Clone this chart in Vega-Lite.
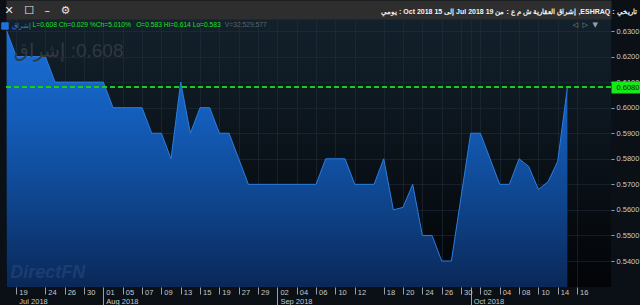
{
  "$schema": "https://vega.github.io/schema/vega-lite/v6.json",
  "width": 605,
  "height": 268,
  "autosize": {"type": "none"},
  "padding": {"left": 6, "top": 19, "right": 29, "bottom": 18},
  "background": "#0a1016",
  "config": {"font": "Liberation Sans, sans-serif", "view": {"stroke": null}},
  "view": {
    "stroke": null,
    "fill": {"gradient": "linear", "x1": 0, "y1": 0, "x2": 0, "y2": 1,
      "stops": [{"offset": 0, "color": "#13212c"}, {"offset": 1, "color": "#020407"}]}
  },
  "data": {"values": [
    {"date": "2018-07-18", "price": 0.63, "name": "إشراق"},
    {"date": "2018-07-19", "price": 0.62, "name": "إشراق"},
    {"date": "2018-07-22", "price": 0.62, "name": "إشراق"},
    {"date": "2018-07-23", "price": 0.62, "name": "إشراق"},
    {"date": "2018-07-24", "price": 0.62, "name": "إشراق"},
    {"date": "2018-07-25", "price": 0.61, "name": "إشراق"},
    {"date": "2018-07-26", "price": 0.61, "name": "إشراق"},
    {"date": "2018-07-29", "price": 0.61, "name": "إشراق"},
    {"date": "2018-07-30", "price": 0.61, "name": "إشراق"},
    {"date": "2018-07-31", "price": 0.61, "name": "إشراق"},
    {"date": "2018-08-01", "price": 0.61, "name": "إشراق"},
    {"date": "2018-08-02", "price": 0.60, "name": "إشراق"},
    {"date": "2018-08-05", "price": 0.60, "name": "إشراق"},
    {"date": "2018-08-06", "price": 0.60, "name": "إشراق"},
    {"date": "2018-08-07", "price": 0.60, "name": "إشراق"},
    {"date": "2018-08-08", "price": 0.59, "name": "إشراق"},
    {"date": "2018-08-09", "price": 0.59, "name": "إشراق"},
    {"date": "2018-08-12", "price": 0.58, "name": "إشراق"},
    {"date": "2018-08-13", "price": 0.61, "name": "إشراق"},
    {"date": "2018-08-14", "price": 0.59, "name": "إشراق"},
    {"date": "2018-08-15", "price": 0.60, "name": "إشراق"},
    {"date": "2018-08-16", "price": 0.60, "name": "إشراق"},
    {"date": "2018-08-19", "price": 0.59, "name": "إشراق"},
    {"date": "2018-08-20", "price": 0.59, "name": "إشراق"},
    {"date": "2018-08-27", "price": 0.58, "name": "إشراق"},
    {"date": "2018-08-28", "price": 0.57, "name": "إشراق"},
    {"date": "2018-08-29", "price": 0.57, "name": "إشراق"},
    {"date": "2018-08-30", "price": 0.57, "name": "إشراق"},
    {"date": "2018-09-02", "price": 0.57, "name": "إشراق"},
    {"date": "2018-09-03", "price": 0.57, "name": "إشراق"},
    {"date": "2018-09-04", "price": 0.57, "name": "إشراق"},
    {"date": "2018-09-05", "price": 0.57, "name": "إشراق"},
    {"date": "2018-09-06", "price": 0.57, "name": "إشراق"},
    {"date": "2018-09-09", "price": 0.58, "name": "إشراق"},
    {"date": "2018-09-10", "price": 0.58, "name": "إشراق"},
    {"date": "2018-09-11", "price": 0.58, "name": "إشراق"},
    {"date": "2018-09-12", "price": 0.57, "name": "إشراق"},
    {"date": "2018-09-13", "price": 0.57, "name": "إشراق"},
    {"date": "2018-09-16", "price": 0.57, "name": "إشراق"},
    {"date": "2018-09-18", "price": 0.58, "name": "إشراق"},
    {"date": "2018-09-19", "price": 0.56, "name": "إشراق"},
    {"date": "2018-09-20", "price": 0.561, "name": "إشراق"},
    {"date": "2018-09-23", "price": 0.57, "name": "إشراق"},
    {"date": "2018-09-24", "price": 0.55, "name": "إشراق"},
    {"date": "2018-09-25", "price": 0.55, "name": "إشراق"},
    {"date": "2018-09-26", "price": 0.54, "name": "إشراق"},
    {"date": "2018-09-27", "price": 0.54, "name": "إشراق"},
    {"date": "2018-09-30", "price": 0.565, "name": "إشراق"},
    {"date": "2018-10-01", "price": 0.59, "name": "إشراق"},
    {"date": "2018-10-02", "price": 0.59, "name": "إشراق"},
    {"date": "2018-10-03", "price": 0.58, "name": "إشراق"},
    {"date": "2018-10-04", "price": 0.57, "name": "إشراق"},
    {"date": "2018-10-07", "price": 0.57, "name": "إشراق"},
    {"date": "2018-10-08", "price": 0.58, "name": "إشراق"},
    {"date": "2018-10-09", "price": 0.577, "name": "إشراق"},
    {"date": "2018-10-10", "price": 0.568, "name": "إشراق"},
    {"date": "2018-10-11", "price": 0.571, "name": "إشراق"},
    {"date": "2018-10-14", "price": 0.579, "name": "إشراق"},
    {"date": "2018-10-15", "price": 0.608, "name": "إشراق"}
  ]},
  "resolve": {"axis": {"x": "independent", "y": "independent"}},
  "layer": [
    {
      "mark": {"type": "area", "clip": true,
        "color": {"gradient": "linear", "x1": 0, "y1": 0, "x2": 0, "y2": 1,
          "stops": [{"offset": 0, "color": "#1a6fd8"}, {"offset": 0.35, "color": "#135cb8"}, {"offset": 0.7, "color": "#0e4288"}, {"offset": 1, "color": "#0a2858"}]}},
      "encoding": {
        "x": {"field": "date", "type": "ordinal",
          "scale": {"type": "point", "padding": 0.2922, "align": 0.124, "round": false,
            "domain": ["2018-07-18","2018-07-19","2018-07-22","2018-07-23","2018-07-24","2018-07-25","2018-07-26","2018-07-29","2018-07-30","2018-07-31","2018-08-01","2018-08-02","2018-08-05","2018-08-06","2018-08-07","2018-08-08","2018-08-09","2018-08-12","2018-08-13","2018-08-14","2018-08-15","2018-08-16","2018-08-19","2018-08-20","2018-08-27","2018-08-28","2018-08-29","2018-08-30","2018-09-02","2018-09-03","2018-09-04","2018-09-05","2018-09-06","2018-09-09","2018-09-10","2018-09-11","2018-09-12","2018-09-13","2018-09-16","2018-09-18","2018-09-19","2018-09-20","2018-09-23","2018-09-24","2018-09-25","2018-09-26","2018-09-27","2018-09-30","2018-10-01","2018-10-02","2018-10-03","2018-10-04","2018-10-07","2018-10-08","2018-10-09","2018-10-10","2018-10-11","2018-10-14","2018-10-15","2018-10-16","2018-10-17","2018-10-18","2018-10-21"]},
          "axis": {
            "orient": "bottom",
            "values": ["2018-07-19","2018-07-24","2018-07-26","2018-07-30","2018-08-01","2018-08-05","2018-08-07","2018-08-09","2018-08-13","2018-08-15","2018-08-19","2018-08-27","2018-08-29","2018-09-02","2018-09-04","2018-09-06","2018-09-10","2018-09-12","2018-09-18","2018-09-20","2018-09-24","2018-09-26","2018-09-30","2018-10-01","2018-10-02","2018-10-04","2018-10-08","2018-10-10","2018-10-14","2018-10-16"],
            "labelExpr": "datum.value == '2018-07-19' ? ['19', 'Jul 2018'] : datum.value == '2018-08-01' ? ['01', 'Aug 2018'] : datum.value == '2018-09-02' ? ['02', 'Sep 2018'] : datum.value == '2018-10-01' ? ['', 'Oct 2018'] : slice(datum.value, 8, 10)",
            "labelAlign": "left",
            "labelBaseline": "top",
            "labelOffset": 2.5,
            "labelAngle": 0,
            "tickSize": {"condition": {"test": "indexof(['2018-08-01','2018-09-02','2018-10-01'], datum.value) >= 0", "value": 18}, "value": 7},
            "labelPadding": {"condition": {"test": "indexof(['2018-08-01','2018-09-02','2018-10-01'], datum.value) >= 0", "value": -16.5}, "value": -5.5},
            "tickColor": "#9aa0a8",
            "labelColor": "#c4c8cc",
            "labelFontSize": 7.5,
            "labelLineHeight": 9,
            "labelOverlap": false,
            "labelFlush": false,
            "labelBound": false,
            "domain": false,
            "grid": true,
            "gridColor": "#22313f",
            "gridOpacity": 0.5,
            "title": null
          }
        },
        "y": {"field": "price", "type": "quantitative",
          "scale": {"domain": [0.52983, 0.6347], "zero": false, "nice": false},
          "axis": {
            "orient": "right",
            "values": [0.54, 0.55, 0.56, 0.57, 0.58, 0.59, 0.6, 0.61, 0.62, 0.63],
            "labelExpr": "format(datum.value, '.4f')",
            "domain": false,
            "tickSize": 3,
            "tickColor": "#9aa0a8",
            "labelPadding": 2,
            "labelColor": "#c8ccd0",
            "labelFontSize": 7.5,
            "labelBaseline": "middle",
            "labelOverlap": false,
            "labelFlush": false,
            "labelBound": false,
            "grid": true,
            "gridColor": "#22313f",
            "gridOpacity": 0.5,
            "title": "✕\u00a0\u00a0\u00a0☐\u00a0\u00a0\u00a0–\u00a0\u00a0\u00a0⚙",
            "titleAngle": 0,
            "titleX": -607,
            "titleY": -9,
            "titleAlign": "left",
            "titleBaseline": "middle",
            "titleColor": "#e8e8e8",
            "titleFont": "DejaVu Sans",
            "titleFontSize": 11,
            "titleFontWeight": "normal"
          }
        },
        "y2": {"datum": 0.52983}
      }
    },
    {
      "mark": {"type": "line", "strokeWidth": 1, "clip": true},
      "encoding": {
        "x": {"field": "date", "type": "ordinal",
          "axis": {"orient": "top", "offset": 9.5, "domain": true, "domainColor": "#2e2e2e", "domainWidth": 19,
            "ticks": false, "labels": false, "grid": false,
            "title": "يومي : Oct 2018 15 إلى Jul 2018 19 إشراق العقارية ش م ع : من ,ESHRAQ : تاريخي",
            "titleAnchor": "end", "titleAlign": "right", "titleBaseline": "middle",
            "titleX": 630, "titleY": 2, "titleColor": "#f2f2f2", "titleFontSize": 7, "titleFontWeight": "bold"}},
        "y": {"field": "price", "type": "quantitative", "axis": null},
        "color": {"field": "name", "type": "nominal",
          "scale": {"range": ["#2b7de0"]},
          "legend": {"orient": "none", "legendX": -5, "legendY": 3, "direction": "horizontal", "title": null,
            "symbolType": "square", "symbolSize": 42, "symbolFillColor": "#1f6fe0", "symbolStrokeColor": "#7fb0ff",
            "symbolStrokeWidth": 0.8, "labelColor": "#2f7fe8", "labelFontSize": 7, "labelOffset": 3, "padding": 0}}
      }
    },
    {
      "mark": {"type": "rule", "color": "#19d019", "strokeDash": [5, 3], "strokeWidth": 1},
      "encoding": {"y": {"datum": 0.608,
        "axis": {"orient": "right", "values": [0.608], "labelExpr": "format(datum.value, '.4f')",
          "domain": false, "grid": false, "title": null,
          "tickSize": 29, "tickWidth": 12, "tickColor": "#17e817",
          "labelPadding": -24, "labelColor": "#04200a", "labelFontSize": 7.5, "labelBaseline": "middle",
          "labelOverlap": false, "labelFlush": false, "labelBound": false}}}
    },
    {
      "data": {"values": [{}]},
      "mark": {"type": "text", "text": "إشراق‎ :0.608", "align": "left", "baseline": "middle",
        "font": "Liberation Sans", "fontSize": 19, "color": "#30383f", "dx": -2},
      "encoding": {"x": {"datum": "2018-07-19", "type": "ordinal", "axis": null}, "y": {"datum": 0.6222, "axis": null}}
    },
    {
      "data": {"values": [{}]},
      "mark": {"type": "text", "text": "DirectFN", "align": "left", "baseline": "middle",
        "font": "Liberation Sans", "fontSize": 18, "fontWeight": "bold", "fontStyle": "italic",
        "color": "#6f95c4", "opacity": 0.16, "dx": 3.5},
      "encoding": {"x": {"datum": "2018-07-18", "type": "ordinal", "axis": null}, "y": {"datum": 0.5353, "axis": null}}
    },
    {
      "data": {"values": [{}]},
      "mark": {"type": "text", "text": "L=0.608 Ch=0.029 %Ch=5.010%", "align": "left", "baseline": "middle",
        "fontSize": 6.7, "color": "#1ee01e", "dx": -3.2},
      "encoding": {"x": {"datum": "2018-07-23", "type": "ordinal", "axis": null}, "y": {"datum": 0.6322, "axis": null}}
    },
    {
      "data": {"values": [{}]},
      "mark": {"type": "text", "text": "O=0.583 Hi=0.614 Lo=0.583", "align": "left", "baseline": "middle",
        "fontSize": 6.7, "color": "#1ee01e", "dx": 3.8},
      "encoding": {"x": {"datum": "2018-08-06", "type": "ordinal", "axis": null}, "y": {"datum": 0.6322, "axis": null}}
    },
    {
      "data": {"values": [{}]},
      "mark": {"type": "text", "text": "V=32,529,577", "align": "left", "baseline": "middle",
        "fontSize": 6.7, "color": "#5d6468", "dx": 5.5},
      "encoding": {"x": {"datum": "2018-08-19", "type": "ordinal", "axis": null}, "y": {"datum": 0.6322, "axis": null}}
    },
    {
      "data": {"values": [{}]},
      "mark": {"type": "text", "text": "◁\u00a0\u00a0▷\u00a0\u00a0▼", "align": "left", "baseline": "middle",
        "font": "DejaVu Sans", "fontSize": 7, "color": "#9aa0a6", "dx": 15},
      "encoding": {"x": {"datum": "2018-10-14", "type": "ordinal", "axis": null}, "y": {"datum": 0.6322, "axis": null}}
    }
  ]
}
